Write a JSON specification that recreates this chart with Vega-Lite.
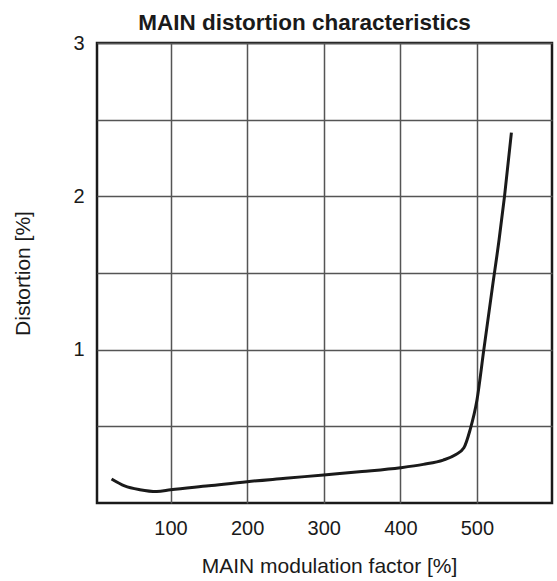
{
  "$schema": "https://vega.github.io/schema/vega-lite/v6.json",
  "width": 455,
  "height": 460,
  "autosize": {"type": "none"},
  "padding": {"left": 97, "top": 43, "right": 5, "bottom": 78},
  "background": "white",
  "title": {
    "text": "MAIN distortion characteristics",
    "font": "Liberation Sans",
    "fontSize": 22.5,
    "fontWeight": "bold",
    "color": "#1a1a1a",
    "anchor": "middle",
    "dx": -20,
    "offset": -1
  },
  "config": {
    "view": {"stroke": "#1a1a1a", "strokeWidth": 2.5},
    "axis": {
      "labelFont": "Liberation Sans",
      "titleFont": "Liberation Sans",
      "labelFontSize": 20,
      "titleFontSize": 21,
      "titleFontWeight": "normal",
      "labelColor": "#1a1a1a",
      "titleColor": "#1a1a1a",
      "gridColor": "#555555",
      "gridWidth": 1.5,
      "gridOpacity": 1,
      "domain": false,
      "ticks": false
    }
  },
  "data": {
    "values": [
      {"m": 23, "d": 0.157},
      {"m": 40, "d": 0.112},
      {"m": 60, "d": 0.087},
      {"m": 82, "d": 0.075},
      {"m": 100, "d": 0.086},
      {"m": 150, "d": 0.112},
      {"m": 200, "d": 0.139},
      {"m": 250, "d": 0.161},
      {"m": 300, "d": 0.183},
      {"m": 350, "d": 0.205},
      {"m": 400, "d": 0.23},
      {"m": 430, "d": 0.252},
      {"m": 456, "d": 0.28},
      {"m": 472, "d": 0.315},
      {"m": 483, "d": 0.36},
      {"m": 491, "d": 0.476},
      {"m": 500, "d": 0.67},
      {"m": 509, "d": 1.0},
      {"m": 520, "d": 1.4},
      {"m": 529, "d": 1.72},
      {"m": 536, "d": 2.0},
      {"m": 545, "d": 2.415}
    ]
  },
  "mark": {"type": "line", "color": "#1a1a1a", "strokeWidth": 3, "interpolate": "monotone", "clip": true},
  "encoding": {
    "x": {
      "field": "m",
      "type": "quantitative",
      "scale": {"domain": [4, 598], "nice": false, "zero": false},
      "axis": {
        "title": "MAIN modulation factor [%]",
        "values": [100, 200, 300, 400, 500],
        "labelPadding": 15,
        "titlePadding": 17,
        "titleX": 232
      }
    },
    "y": {
      "field": "d",
      "type": "quantitative",
      "scale": {"domain": [0, 3], "nice": false},
      "axis": {
        "title": "Distortion [%]",
        "values": [0.5, 1, 1.5, 2, 2.5, 3],
        "labelExpr": "datum.value == 1 ? '1' : datum.value == 2 ? '2' : datum.value == 3 ? '3' : ''",
        "labelPadding": 13,
        "titlePadding": 39
      }
    }
  }
}
